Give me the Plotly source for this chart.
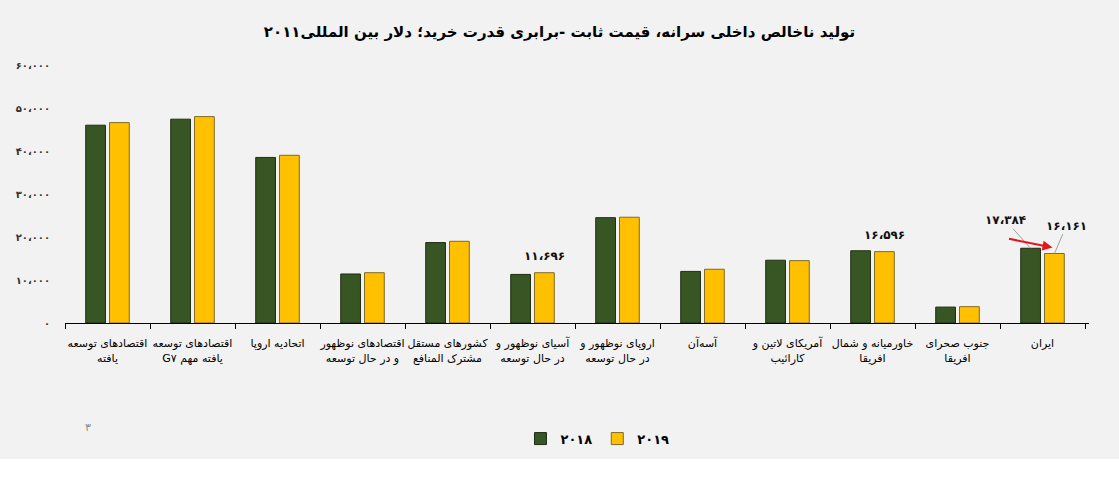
import plotly.graph_objects as go

# categories (left to right as in the report)
categories = [
    "اقتصادهای توسعه<br>یافته",
    "اقتصادهای توسعه<br>\u202Bیافته مهم G۷\u202C",
    "اتحادیه اروپا",
    "اقتصادهای نوظهور<br>و در حال توسعه",
    "کشورهای مستقل<br>مشترک المنافع",
    "آسیای نوظهور و<br>در حال توسعه",
    "اروپای نوظهور و<br>در حال توسعه",
    "آسه‌آن",
    "آمریکای لاتین و<br>کارائیب",
    "خاورمیانه و شمال<br>افریقا",
    "جنوب صحرای<br>افریقا",
    "ایران",
]
gdp_2018 = [46000, 47400, 38500, 11400, 18700, 11300, 24500, 12000, 14600, 16800, 3700, 17384]
gdp_2019 = [46600, 48000, 39000, 11700, 19000, 11696, 24600, 12500, 14500, 16596, 3800, 16161]

tick_vals = [0, 10000, 20000, 30000, 40000, 50000, 60000]

title = "تولید ناخالص داخلی سرانه، قیمت ثابت -برابری قدرت خرید؛ دلار بین المللی۲۰۱۱"

FA_DIGITS = str.maketrans("0123456789", "۰۱۲۳۴۵۶۷۸۹")


def fa_num(v):
    # persian digits with arabic comma as thousands separator
    return f"{v:,}".replace(",", "،").translate(FA_DIGITS)


W, H = 1119, 484
ML, MR, MT, MB = 65, 30, 65, 161
FONT = "DejaVu Sans"

fig = go.Figure()
fig.add_trace(go.Bar(
    x=categories, y=gdp_2018, name=fa_num(2018).replace("،", ""),
    marker=dict(color="#375623", line=dict(color="#1e2e12", width=1)),
))
fig.add_trace(go.Bar(
    x=categories, y=gdp_2019, name=fa_num(2019).replace("،", ""),
    marker=dict(color="#ffc000", line=dict(color="#7f6a2a", width=1)),
))

label_font = dict(family=FONT, size=12, color="#111111", weight="bold")
annotations = []
# value labels above the yellow bars
for i in (5, 9):
    annotations.append(dict(
        x=categories[i], y=gdp_2019[i], xref="x", yref="y", text=fa_num(gdp_2019[i]),
        showarrow=False, xshift=12, yshift=17, font=label_font,
    ))
# Iran callouts
annotations.append(dict(
    x=categories[11], y=gdp_2018[11], xref="x", yref="y", text=fa_num(gdp_2018[11]),
    showarrow=True, arrowhead=0, arrowwidth=1, arrowcolor="#a0a0a0",
    xshift=-12, ax=-25, ay=-28, standoff=0, font=label_font,
))
annotations.append(dict(
    x=categories[11], y=gdp_2019[11], xref="x", yref="y", text=fa_num(gdp_2019[11]),
    showarrow=True, arrowhead=0, arrowwidth=1, arrowcolor="#a0a0a0",
    xshift=12, ax=12, ay=-28, standoff=0, font=label_font,
))
annotations.append(dict(
    x=categories[11], y=gdp_2019[11], xref="x", yref="y", text="",
    showarrow=True, arrowhead=2, arrowsize=1, arrowwidth=2, arrowcolor="#e8141b",
    xshift=10, yshift=6, ax=-45, ay=-9,
))
# page number
annotations.append(dict(
    x=(88 - ML) / (W - ML - MR), y=-(427 - (H - MB)) / (H - MT - MB),
    xref="paper", yref="paper", xanchor="center", yanchor="middle",
    text="۳", showarrow=False,
    font=dict(family=FONT, size=11, color="#8c8c8c"),
))

pw = W - ML - MR
ph = H - MT - MB
fig.update_layout(
    width=W, height=H,
    margin=dict(l=ML, r=MR, t=MT, b=MB),
    paper_bgcolor="white",
    plot_bgcolor="#d6dde6",
    font=dict(family=FONT, color="#222222"),
    title=dict(text=title, x=0.5, xanchor="center", y=0.935, yanchor="middle",
               font=dict(family=FONT, size=15, color="black", weight="bold")),
    barmode="group", bargap=0.44, bargroupgap=0.17,
    legend=dict(orientation="h", x=0.52, xanchor="center", y=-0.39, yanchor="top",
                font=dict(family=FONT, size=13, color="black", weight="bold"),
                itemwidth=30, bgcolor="rgba(0,0,0,0)"),
    annotations=annotations,
    shapes=[dict(
        type="rect", xref="paper", yref="paper", layer="below",
        x0=-ML / pw, x1=(W - ML) / pw,
        y0=-(459 - (H - MB)) / ph, y1=(H - MB) / ph,
        fillcolor="#f2f2f2", line=dict(width=0),
    )],
)
fig.update_xaxes(
    showline=True, linecolor="black", linewidth=1,
    ticks="outside", tickson="boundaries", ticklen=5, tickcolor="black",
    tickangle=0, ticklabelstandoff=10,
    tickfont=dict(family=FONT, size=11, color="black"),
    showgrid=False,
)
fig.update_yaxes(
    range=[0, 60000], tickvals=tick_vals, ticktext=[fa_num(v) for v in tick_vals],
    showgrid=False, zeroline=False, showline=False, ticks="",
    ticklabelstandoff=14,
    tickfont=dict(family=FONT, size=10, color="#333333", weight="bold"),
)

fig.write_html("out.html", config={"displayModeBar": False},
               post_script="document.body.style.margin='0';")
